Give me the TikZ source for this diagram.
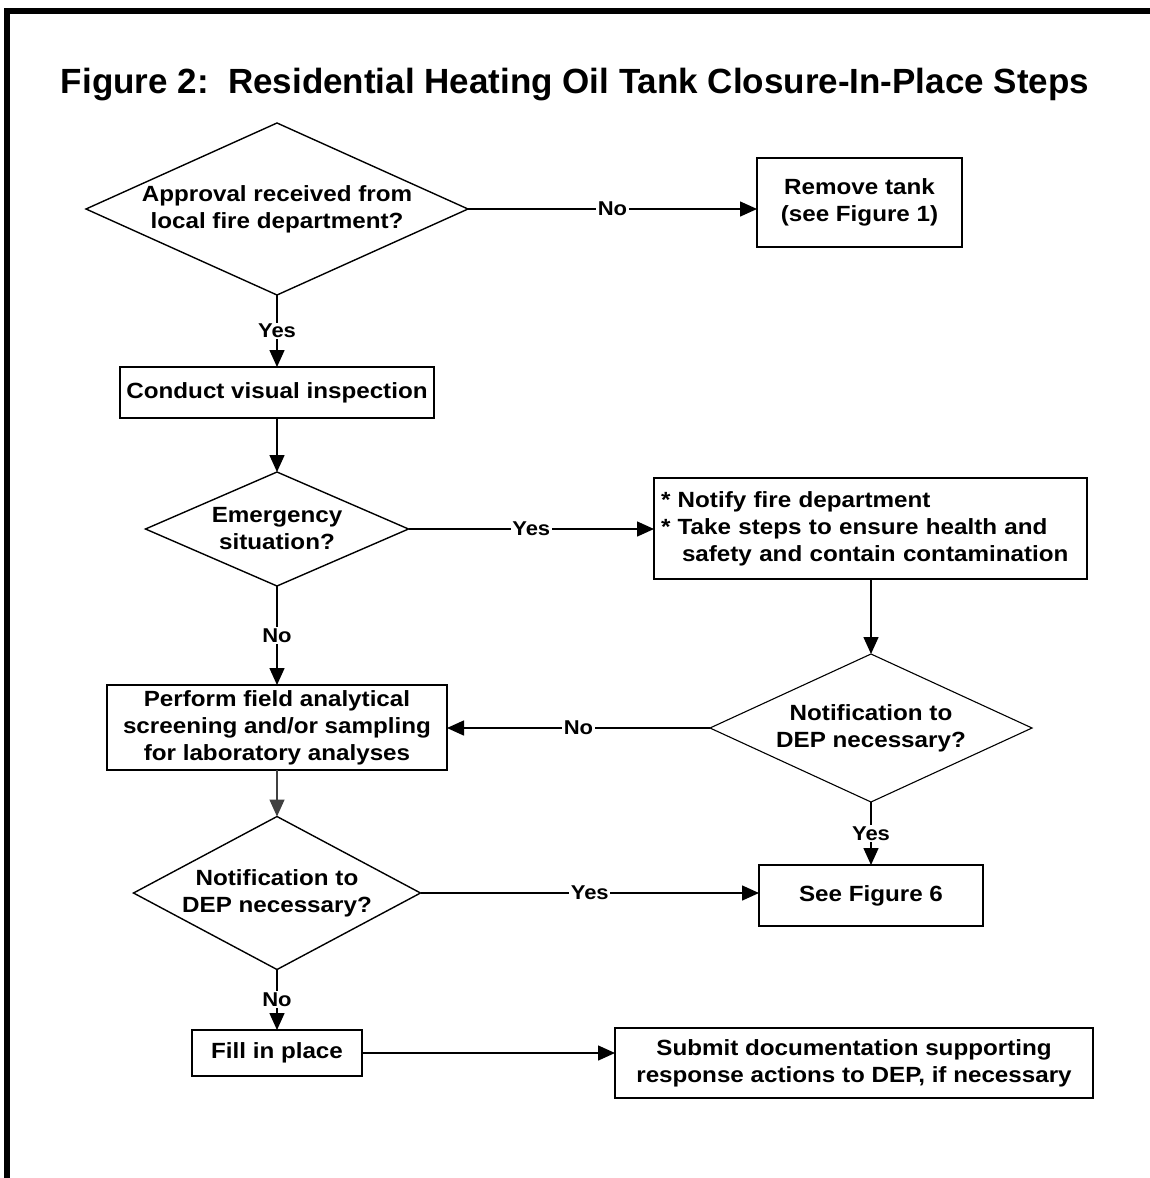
\documentclass[tikz,border=0pt]{standalone}
\usepackage{fontspec}
\setmainfont{Liberation Sans}[FakeStretch=1.1]
\newfontfamily\titlefont{Liberation Sans}
\usetikzlibrary{shapes.geometric,arrows.meta}
\frenchspacing
\begin{document}
\begin{tikzpicture}[x=1pt,y=-1pt,
  every node/.style={font=\bfseries\fontsize{22}{27}\selectfont},
  box/.style={draw, line width=1.8pt, inner sep=0pt, outer sep=0pt, align=center},
  dec/.style={diamond, draw, line width=1.4pt, inner sep=0pt, outer sep=0pt, align=center},
  lbl/.style={fill=white, inner sep=1.5pt, font=\bfseries\fontsize{20}{24}\selectfont},
  arr/.style={line width=1.5pt, -{Triangle[length=17pt,width=15pt]}}]
\useasboundingbox (0,0) rectangle (1150,1178);
\draw[line width=6pt] (7,1178) -- (7,11) -- (1150,11);

\node[anchor=base, font=\titlefont\bfseries\fontsize{35}{40}\selectfont] (title) at (575,93)
  {Figure 2:\ \ Residential Heating Oil Tank Closure-In-Place Steps};

% decisions
\node[dec, minimum width=382pt, minimum height=172pt, aspect=2.22] (d1) at (277,209)
  {Approval received from\\local fire department?};
\node[dec, minimum width=263pt, minimum height=114pt, aspect=2.31] (d2) at (277,529)
  {Emergency\\situation?};
\node[dec, line width=1.1pt, minimum width=322pt, minimum height=148pt, aspect=2.18] (d3) at (871,728)
  {Notification to\\DEP necessary?};
\node[dec, minimum width=287pt, minimum height=153pt, aspect=1.88] (d4) at (277,893)
  {Notification to\\DEP necessary?};

% boxes
\node[box, minimum width=205pt, minimum height=89pt] (b1) at (859.5,202.5)
  {Remove tank\\(see Figure 1)};
\node[box, minimum width=314pt, minimum height=51pt] (b2) at (277,392.5)
  {Conduct visual inspection};
\node[box, text width=419pt, inner xsep=7pt, align=left, minimum height=101pt] (b3) at (870.5,528.5)
  {* Notify fire department\\{}* Take steps to ensure health and\\\hspace*{21pt}safety and contain contamination};
\node[box, minimum width=340pt, minimum height=85pt] (b4) at (277,727.5)
  {Perform field analytical\\screening and/or sampling\\for laboratory analyses};
\node[box, minimum width=224pt, minimum height=61pt] (b5) at (871,895.5)
  {See Figure 6};
\node[box, minimum width=170pt, minimum height=46pt] (b6) at (277,1053)
  {Fill in place};
\node[box, minimum width=478pt, minimum height=70pt] (b7) at (854,1063)
  {Submit documentation supporting\\response actions to DEP, if necessary};

% connectors
\draw[arr] (d1.east) -- node[lbl]{No} (d1.east -| b1.west);
\draw[arr] (d1.south) -- node[lbl]{Yes} (b2.north);
\draw[arr] (b2.south) -- (d2.north);
\draw[arr] (d2.east) -- node[lbl]{Yes} (d2.east -| b3.west);
\draw[arr] (d2.south) -- node[lbl]{No} (b4.north);
\draw[arr] (d3.north |- b3.south) -- (d3.north);
\draw[arr] (d3.west) -- node[lbl]{No} (d3.west -| b4.east);
\draw[arr] (d3.south) -- node[lbl]{Yes} (b5.north);
\draw[arr, draw=black!75] (b4.south) -- (d4.north);
\draw[arr] (d4.east) -- node[lbl]{Yes} (d4.east -| b5.west);
\draw[arr] (d4.south) -- node[lbl]{No} (b6.north);
\draw[arr] (b6.east) -- (b6.east -| b7.west);
\end{tikzpicture}
\end{document}
